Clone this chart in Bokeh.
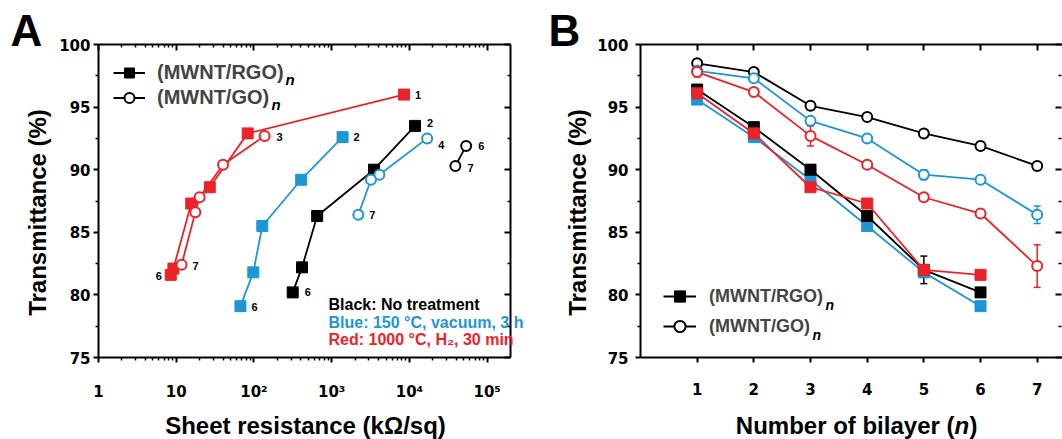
import numpy as np
from bokeh.plotting import figure
from bokeh.models import (ColumnDataSource, LinearAxis, LogAxis, FixedTicker, Range1d,
                          Label, Legend, LegendItem, Whisker, TeeHead)
from bokeh.layouts import row
from bokeh.core.properties import value
from bokeh.embed import file_html
from bokeh.resources import INLINE

# ---------------- data: panel A (sheet resistance vs transmittance) ----------------
a_black_rgo_n = [2, 3, 4, 5, 6]
a_black_rgo_r = [11800, 3500, 650, 415, 315]
a_black_rgo_t = [93.5, 90.0, 86.3, 82.2, 80.2]

a_black_go_n = [6, 7]
a_black_go_r = [53700, 39000]
a_black_go_t = [91.9, 90.3]

a_blue_rgo_n = [2, 3, 4, 5, 6]
a_blue_rgo_r = [1380, 405, 128, 98, 67]
a_blue_rgo_t = [92.6, 89.2, 85.5, 81.8, 79.1]

a_blue_go_n = [4, 5, 6, 7]
a_blue_go_r = [16900, 4100, 3200, 2200]
a_blue_go_t = [92.5, 89.6, 89.2, 86.4]

a_red_rgo_n = [1, 2, 3, 4, 5, 6]
a_red_rgo_r = [8500, 83, 27, 15.6, 9.2, 8.5]
a_red_rgo_t = [96.0, 92.9, 88.6, 87.3, 82.1, 81.6]

a_red_go_n = [3, 4, 5, 6, 7]
a_red_go_r = [137, 40, 20, 17.6, 11.7]
a_red_go_t = [92.7, 90.4, 87.8, 86.6, 82.4]

a_x_ticks = [1, 10, 100, 1000, 10000, 100000]
a_x_labels = ["1", "10", "10\u00b2", "10\u00b3", "10\u2074", "10\u2075"]
y_ticks = [75, 80, 85, 90, 95, 100]
y_minor = [77.5, 82.5, 87.5, 92.5, 97.5]

# ---------------- data: panel B (number of bilayers vs transmittance) ----------------
b_n_go = [1, 2, 3, 4, 5, 6, 7]
b_n_rgo = [1, 2, 3, 4, 5, 6]

b_black_go = [98.5, 97.8, 95.1, 94.2, 92.9, 91.9, 90.3]
b_black_go_err = [0.2, 0.3, 0.3, 0.1, 0.2, 0.2, 0.3]
b_blue_go = [97.9, 97.3, 93.9, 92.5, 89.6, 89.2, 86.4]
b_blue_go_err = [0.3, 0.3, 0.3, 0.2, 0.4, 0.2, 0.7]
b_red_go = [97.8, 96.2, 92.7, 90.4, 87.8, 86.5, 82.3]
b_red_go_err = [0.4, 0.2, 0.8, 0.2, 0.2, 0.2, 1.7]

b_black_rgo = [96.4, 93.4, 90.0, 86.3, 82.0, 80.2]
b_black_rgo_err = [0.3, 0.2, 0.4, 0.4, 1.1, 0.2]
b_blue_rgo = [95.6, 92.6, 89.2, 85.5, 81.8, 79.1]
b_blue_rgo_err = [0.2, 0.2, 0.2, 0.3, 0.4, 0.1]
b_red_rgo = [96.1, 92.9, 88.6, 87.3, 82.0, 81.6]
b_red_rgo_err = [0.2, 0.2, 0.2, 0.2, 0.3, 0.1]

b_x_ticks = [1, 2, 3, 4, 5, 6, 7]

RED = "#EB2328"
BLUE = "#1E96D4"
BLACK = "#000000"
TITLE_FONT = "Liberation Sans"
TICK_FONT = "DejaVu Sans"

# ---------------- layout constants (pixels) ----------------
H = 439
Y_LO, Y_HI = 75, 100
BOX_T, BOX_B = 44, 357
ppy = (BOX_B - BOX_T) / (Y_HI - Y_LO)

A_W = 540
A_L, A_R = 98, 510
A_LO, A_HI = 1, 10 ** 5.3
ppd = (A_R - A_L) / (np.log10(A_HI) - np.log10(A_LO))

B_W = 522
B_L = 100           # frame-left of panel B inside its canvas
ppx = 56.67
B_HI = (B_W - B_L) / ppx


def style_axis(ax, inward=False, labels=True, standoff=5):
    ax.axis_line_width = 2
    ax.axis_line_color = BLACK
    ax.major_tick_line_width = 2
    ax.minor_tick_line_width = 1.5
    ax.major_tick_line_color = BLACK
    ax.minor_tick_line_color = BLACK
    if inward:
        ax.major_tick_in, ax.major_tick_out = 6, 0
        ax.minor_tick_in, ax.minor_tick_out = 3, 0
    else:
        ax.major_tick_in, ax.major_tick_out = 0, 5
        ax.minor_tick_in, ax.minor_tick_out = 0, 3
    if labels:
        ax.major_label_text_font = TICK_FONT
        ax.major_label_text_font_style = "bold"
        ax.major_label_text_font_size = "15px"
        ax.major_label_text_color = BLACK
        ax.major_label_standoff = standoff
    else:
        ax.major_label_text_font_size = "0px"
        ax.major_label_text_color = None
        ax.major_label_standoff = 0


def add_text(p, x0, y0, fx, fy, px, py, text, size, italic=False, color=BLACK, align="left",
             angle=0.0):
    """px, py: pixel position of the text's baseline start (or centre for align)."""
    s = float(size.replace("px", ""))
    shift = 0.35 * s  # baseline -> vertical middle
    if angle:
        px, py = px - shift, py
    else:
        py = py - shift
    p.add_layout(Label(x=x0, y=y0, x_offset=px - fx, y_offset=-(py - fy), text=text,
                       text_font=TITLE_FONT, text_font_style="bold italic" if italic else "bold",
                       text_font_size=size, text_color=color, text_align=align,
                       text_baseline="middle", angle=angle))


# ================= Panel A =================
xrA = Range1d(10 ** (np.log10(A_LO) - A_L / ppd), 10 ** (np.log10(A_HI) + (A_W - A_R) / ppd))
yrA = Range1d(Y_LO - (H - BOX_B) / ppy, Y_HI + BOX_T / ppy)
pA = figure(width=A_W, height=H, x_axis_type="log", x_range=xrA, y_range=yrA,
            x_axis_location=None, y_axis_location=None,
            output_backend="svg", toolbar_location=None, min_border=0)
pA.outline_line_color = None
pA.grid.visible = False

minorA = [k * 10 ** d for d in range(0, 6) for k in range(2, 10) if k * 10 ** d <= A_HI]
tickA = FixedTicker(ticks=a_x_ticks, minor_ticks=minorA)
tickY = FixedTicker(ticks=y_ticks, minor_ticks=y_minor)

bx = LogAxis(ticker=tickA, fixed_location=Y_LO, bounds=(A_LO, A_HI))
bx.major_label_overrides = {t: l for t, l in zip(a_x_ticks, a_x_labels)}
style_axis(bx, standoff=20)
pA.add_layout(bx, "below")

topA = LogAxis(ticker=tickA, fixed_location=Y_HI, bounds=(A_LO, A_HI))
style_axis(topA, inward=True, labels=False)
pA.add_layout(topA, "above")

ly = LinearAxis(ticker=tickY, fixed_location=A_LO, bounds=(Y_LO, Y_HI))
style_axis(ly, standoff=3)
pA.add_layout(ly, "left")

rightA = LinearAxis(ticker=tickY, fixed_location=A_HI, bounds=(Y_LO, Y_HI))
style_axis(rightA, inward=True, labels=False)
pA.add_layout(rightA, "right")

seriesA = [
    ("black_rgo", a_black_rgo_r, a_black_rgo_t, a_black_rgo_n, BLACK, "square"),
    ("black_go", a_black_go_r, a_black_go_t, a_black_go_n, BLACK, "circle"),
    ("blue_rgo", a_blue_rgo_r, a_blue_rgo_t, a_blue_rgo_n, BLUE, "square"),
    ("blue_go", a_blue_go_r, a_blue_go_t, a_blue_go_n, BLUE, "circle"),
    ("red_rgo", a_red_rgo_r, a_red_rgo_t, a_red_rgo_n, RED, "square"),
    ("red_go", a_red_go_r, a_red_go_t, a_red_go_n, RED, "circle"),
]
# label placement (first point, last point): (dx, dy, align)
label_style = {
    "black_rgo": [(12, -3, "left"), (12, 0, "left")],
    "black_go": [(12, 0, "left"), (12, 2, "left")],
    "blue_rgo": [(11, 0, "left"), (11, 1, "left")],
    "blue_go": [(11, 7, "left"), (11, 0, "left")],
    "red_rgo": [(11, 0, "left"), (-9, 1, "right")],
    "red_go": [(12, 1, "left"), (11, 1, "left")],
}
rendA = {}
for key, xs, ys, ns, col, mk in seriesA:
    src = ColumnDataSource(dict(x=xs, y=ys))
    lr = pA.line("x", "y", source=src, line_color=col, line_width=1.8)
    if mk == "square":
        sr = pA.scatter("x", "y", source=src, marker="square", size=11, fill_color=col,
                        line_color=col)
    else:
        sr = pA.scatter("x", "y", source=src, marker="circle", size=10, fill_color="white",
                        line_color=col, line_width=2)
    rendA[key] = (lr, sr)
    for idx, (dx, dy, al) in zip((0, -1), label_style[key]):
        pA.text(x=[xs[idx]], y=[ys[idx]], text=[str(ns[idx])], x_offset=dx, y_offset=dy,
                text_font=value(TITLE_FONT), text_font_style="bold", text_font_size="11px",
                text_color=BLACK, text_align=al, text_baseline="middle")

legA = Legend(items=[LegendItem(label="(MWNT/RGO)", renderers=list(rendA["black_rgo"])),
                     LegendItem(label="(MWNT/GO)", renderers=list(rendA["black_go"]))],
              location=(113, H - 109.5), glyph_width=32, glyph_height=25, label_height=25,
              spacing=0, padding=0, margin=0, label_standoff=12, border_line_color=None,
              background_fill_alpha=0, label_text_font=TITLE_FONT,
              label_text_font_style="bold", label_text_font_size="20px")
pA.add_layout(legA)

tA = dict(p=pA, x0=A_LO, y0=Y_HI, fx=A_L, fy=BOX_T)
add_text(**tA, px=285, py=84, text="n", size="15px", italic=True)
add_text(**tA, px=271, py=109, text="n", size="15px", italic=True)
add_text(**tA, px=10, py=45, text="A", size="44px")
add_text(**tA, px=328, py=310, text="Black: No treatment", size="16px", color=BLACK)
add_text(**tA, px=328, py=328, text="Blue: 150 \u00b0C, vacuum, 3 h", size="16px", color=BLUE)
add_text(**tA, px=328, py=345, text="Red: 1000 \u00b0C, H\u2082, 30 min", size="16px", color=RED)
add_text(**tA, px=305, py=433, text="Sheet resistance (k\u03a9/sq)", size="24px", align="center")
add_text(**tA, px=45, py=212, text="Transmittance (%)", size="24px", align="center",
         angle=np.pi / 2)

# ================= Panel B =================
xrB = Range1d(-B_L / ppx, B_HI)
yrB = Range1d(Y_LO - (H - BOX_B) / ppy, Y_HI + BOX_T / ppy)
pB = figure(width=B_W, height=H, x_range=xrB, y_range=yrB,
            x_axis_location=None, y_axis_location=None,
            output_backend="svg", toolbar_location=None, min_border=0)
pB.outline_line_color = None
pB.grid.visible = False
tickB = FixedTicker(ticks=b_x_ticks, minor_ticks=[])

bxB = LinearAxis(ticker=tickB, fixed_location=Y_LO, bounds=(0, B_HI))
style_axis(bxB, standoff=20)
pB.add_layout(bxB, "below")

topB = LinearAxis(ticker=tickB, fixed_location=Y_HI, bounds=(0, B_HI))
style_axis(topB, inward=True, labels=False)
pB.add_layout(topB, "above")

lyB = LinearAxis(ticker=tickY, fixed_location=0, bounds=(Y_LO, Y_HI))
style_axis(lyB, standoff=7)
pB.add_layout(lyB, "left")

rightB = LinearAxis(ticker=tickY, fixed_location=B_HI - 0.01, bounds=(Y_LO, Y_HI))
style_axis(rightB, inward=True, labels=False)
rightB.axis_line_color = None
pB.add_layout(rightB, "right")

seriesB = [
    ("black_go", b_n_go, b_black_go, b_black_go_err, BLACK, "circle"),
    ("blue_go", b_n_go, b_blue_go, b_blue_go_err, BLUE, "circle"),
    ("red_go", b_n_go, b_red_go, b_red_go_err, RED, "circle"),
    ("blue_rgo", b_n_rgo, b_blue_rgo, b_blue_rgo_err, BLUE, "square"),
    ("black_rgo", b_n_rgo, b_black_rgo, b_black_rgo_err, BLACK, "square"),
    ("red_rgo", b_n_rgo, b_red_rgo, b_red_rgo_err, RED, "square"),
]
rendB = {}
for key, xs, ys, es, col, mk in seriesB:
    ya, ea = np.array(ys), np.array(es)
    src = ColumnDataSource(dict(x=xs, y=ys, up=ya + ea, lo=ya - ea))
    lr = pB.line("x", "y", source=src, line_color=col, line_width=1.8)
    if mk == "square":
        sr = pB.scatter("x", "y", source=src, marker="square", size=11, fill_color=col,
                        line_color=col)
    else:
        sr = pB.scatter("x", "y", source=src, marker="circle", size=10, fill_color="white",
                        line_color=col, line_width=2)
    rendB[key] = (lr, sr)
    pB.add_layout(Whisker(source=src, base="x", upper="up", lower="lo", line_color=col,
                          line_width=1.5,
                          upper_head=TeeHead(size=7, line_color=col, line_width=1.5),
                          lower_head=TeeHead(size=7, line_color=col, line_width=1.5)))

legB = Legend(items=[LegendItem(label="(MWNT/RGO)", renderers=list(rendB["black_rgo"])),
                     LegendItem(label="(MWNT/GO)", renderers=list(rendB["black_go"]))],
              location=(123, H - 340), glyph_width=33, glyph_height=28, label_height=28,
              spacing=2, padding=0, margin=0, label_standoff=13, border_line_color=None,
              background_fill_alpha=0, label_text_font=TITLE_FONT,
              label_text_font_style="bold", label_text_font_size="18px")
pB.add_layout(legB)

# texts of panel B: pixel positions inside panel B's canvas
tB = dict(p=pB, x0=0, y0=Y_HI, fx=B_L, fy=BOX_T)
add_text(**tB, px=285, py=309, text="n", size="14px", italic=True)
add_text(**tB, px=272, py=339, text="n", size="14px", italic=True)
add_text(**tB, px=8, py=45, text="B", size="44px")
add_text(**tB, px=414, py=433, text="Number of bilayer (", size="24px", align="right")
add_text(**tB, px=414, py=433, text="n", size="24px", italic=True)
add_text(**tB, px=429, py=433, text=")", size="24px")
add_text(**tB, px=45, py=212, text="Transmittance (%)", size="24px", align="center",
         angle=np.pi / 2)

layout = row(pA, pB)
open("out.html", "w").write(file_html(layout, INLINE))
